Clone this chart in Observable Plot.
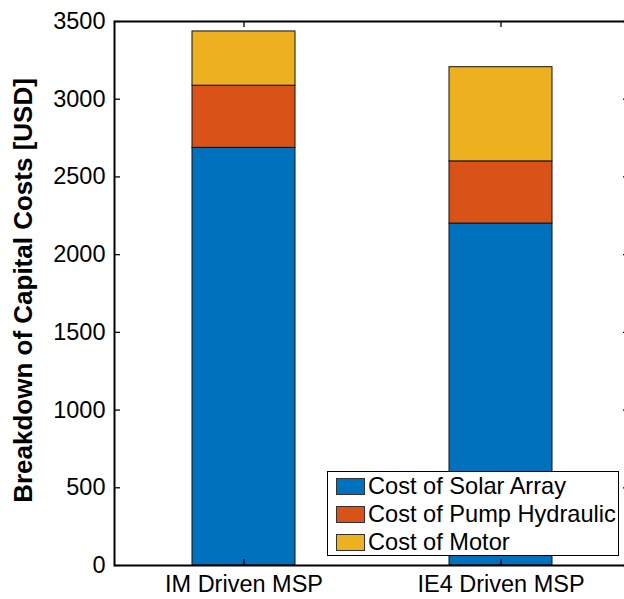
<!DOCTYPE html>
<html>
<head>
<meta charset="utf-8">
<script src="https://cdn.jsdelivr.net/npm/d3@7"></script>
<script src="https://cdn.jsdelivr.net/npm/@observablehq/plot@0.6"></script>
<style>
  html, body { margin: 0; padding: 0; background: #fff; overflow: hidden; }
  #chart {
    position: relative; width: 624px; height: 599px; overflow: hidden;
    font-family: "Liberation Sans", Arial, Helvetica, sans-serif; color: #000;
  }
  #chart svg { display: block; max-width: none !important; width: 630px !important; height: 599px !important; }
  .legend {
    position: absolute; left: 327px; top: 471px; width: 292px; height: 85px;
    box-sizing: border-box; border: 1.5px solid #000; background: #fff;
  }
  .legend .row {
    position: absolute; left: 8px; height: 17px;
    display: flex; align-items: center; white-space: nowrap;
  }
  .legend .swatch {
    width: 29px; height: 17px; box-sizing: border-box;
    border: 1px solid #333; margin-right: 3px; flex: none;
  }
  .legend .name { font-size: 23.6px; line-height: 17px; }
</style>
</head>
<body>
<div id="chart"></div>
<script>
// Capital cost breakdown of the two motor-driven pumping systems (USD)
const categories = ["IM Driven MSP", "IE4 Driven MSP"];
const components = ["Cost of Solar Array", "Cost of Pump Hydraulic", "Cost of Motor"];
const solarArray = [2687, 2200];
const pumpHydraulic = [400, 400];
const motor = [349, 606];
const componentColors = ["#0072BD", "#D95319", "#EDB120"];
const yTicks = [0, 500, 1000, 1500, 2000, 2500, 3000, 3500];
const yLabel = "Breakdown of Capital Costs [USD]";

// long table: one row per (component, system), solar at the bottom of each stack
const rows = [];
[solarArray, pumpHydraulic, motor].forEach((values, j) => {
  values.forEach((v, i) => rows.push({category: categories[i], component: components[j], cost: v}));
});

const W = 630, H = 599;
const mL = 114, mR = 1, mT = 21, mB = 34;
const frameW = W - mL - mR, frameH = H - mT - mB;
const tickLen = 6;

const chart = Plot.plot({
  width: W,
  height: H,
  marginLeft: mL,
  marginRight: mR,
  marginTop: mT,
  marginBottom: mB,
  style: {
    fontFamily: '"Liberation Sans", Arial, Helvetica, sans-serif',
    fontSize: "22px",
    color: "#000",
    background: "transparent",
    maxWidth: "none"
  },
  x: {domain: categories, paddingInner: 0.6, paddingOuter: 0.3},
  y: {domain: [0, 3500]},
  color: {domain: components, range: componentColors},
  marks: [
    Plot.barY(rows, {x: "category", y: "cost", fill: "component", stroke: "#111", strokeWidth: 1}),
    // inward ticks on all four sides
    Plot.tickY(yTicks, {y: d => d, insetRight: frameW - tickLen, stroke: "#000", strokeWidth: 1.3}),
    Plot.tickY(yTicks, {y: d => d, insetLeft: frameW - tickLen, stroke: "#000", strokeWidth: 1.3}),
    Plot.tickX(categories, {x: d => d, insetTop: frameH - tickLen, stroke: "#000", strokeWidth: 1.3}),
    Plot.tickX(categories, {x: d => d, insetBottom: frameH - tickLen, stroke: "#000", strokeWidth: 1.3}),
    Plot.axisY(yTicks, {tickSize: 0, tickPadding: 9, fontSize: 23.5, label: null, tickFormat: d3.format("d")}),
    Plot.axisX({tickSize: 0, tickPadding: 10, fontSize: 23.5, label: null}),
    Plot.frame({stroke: "#000", strokeWidth: 2}),
    Plot.text([yLabel], {
      frameAnchor: "left", rotate: -90, dx: -91, dy: -3,
      textAnchor: "middle", lineAnchor: "middle",
      fontSize: 26, fontWeight: "bold", fill: "#000"
    })
  ]
});

const root = document.getElementById("chart");
root.append(chart);

// legend box drawn inside the lower-right corner of the axes
const legend = document.createElement("div");
legend.className = "legend";
const rowTops = [6, 33.5, 61.5];
components.forEach((name, i) => {
  const row = document.createElement("div");
  row.className = "row";
  row.style.top = rowTops[i] + "px";
  const sw = document.createElement("div");
  sw.className = "swatch";
  sw.style.background = componentColors[i];
  const label = document.createElement("span");
  label.className = "name";
  label.textContent = name;
  row.append(sw, label);
  legend.append(row);
});
root.append(legend);
</script>
</body>
</html>
